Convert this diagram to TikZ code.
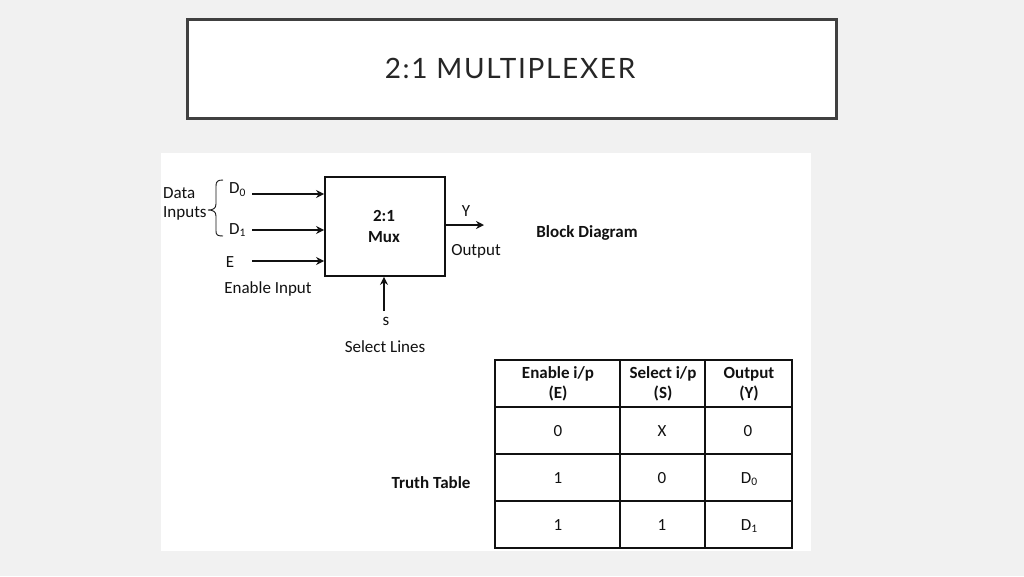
\documentclass[tikz,border=0pt]{standalone}
\usepackage{fontspec}
\setmainfont{Carlito}
\newfontfamily\titlefont[LetterSpace=6]{Lato}
\usetikzlibrary{arrows.meta}
\definecolor{pagebg}{HTML}{F1F1F1}
\definecolor{titleborder}{HTML}{404040}
\definecolor{titletext}{HTML}{262626}
\definecolor{ink}{HTML}{111111}
\tikzset{
  lbl/.style={inner sep=0pt, font=\fontsize{17}{19}\selectfont, text=ink},
  blbl/.style={lbl, font=\fontsize{17}{20}\selectfont\bfseries},
  sig/.style={line width=1.7pt, draw=ink, -{Stealth[length=8pt,width=8pt]}},
  muxbox/.style={draw=ink, line width=1.8pt, minimum width=120pt, minimum height=99pt, inner sep=0pt, align=center},
  cell/.style={lbl, align=center},
  hcell/.style={lbl, align=center, font=\fontsize{17}{20}\selectfont\bfseries},
  grid/.style={draw=ink, line width=1.2pt}
}
\newcommand{\Dsub}[1]{D\raisebox{-0.35ex}{\fontsize{11.5}{12}\selectfont #1}}
\begin{document}
\begin{tikzpicture}[x=1pt,y=-1pt]
\useasboundingbox (0,0) rectangle (1024,576);
\fill[pagebg] (0,0) rectangle (1024,576);
% title
\node[draw=titleborder, line width=2.2pt, fill=white, minimum width=649pt, minimum height=99pt, inner sep=0pt] (titlebox) at (512,69) {};
\node[text=titletext, inner sep=0pt, font=\titlefont\fontsize{28}{32}\selectfont] (title) at (510,68) {2:1 MULTIPLEXER};
% image panel
\fill[white] (161,153) rectangle (811,551);
% block diagram
\node[muxbox] (mux) at (385,226.5) {};
\node[blbl, align=center, font=\fontsize{17}{21}\selectfont\bfseries] (muxlbl) at (384,226.5) {2:1\\Mux};
\node[lbl, anchor=west] (data) at (163,193) {Data};
\node[lbl, anchor=west] (inputs) at (163,213) {Inputs};
\node[lbl, anchor=west] (d0) at (229,190) {\Dsub{0}};
\node[lbl, anchor=west] (d1) at (229,230) {\Dsub{1}};
\node[lbl] (e) at (230,262) {E};
\node[lbl] (enable) at (268,289) {Enable Input};
\coordinate (d0s) at (252,194);
\coordinate (d1s) at (252,230);
\coordinate (es) at (252,261);
\draw[sig] (d0s) -- (mux.west |- d0s);
\draw[sig] (d1s) -- (mux.west |- d1s);
\draw[sig] (es) -- (mux.west |- es);
\draw[draw=ink, line width=0.9pt] (223,180) .. controls (217.5,180) and (216,181.5) .. (216,186) -- (216,204) .. controls (216,208.5) and (213,210) .. (208,210) .. controls (213,210) and (216,211.5) .. (216,216) -- (216,231) .. controls (216,235) and (217.5,236) .. (223,236);
\coordinate (yend) at (484,225);
\draw[sig] (mux.east |- yend) -- (yend);
\node[lbl] (y) at (466,211) {Y};
\node[lbl] (output) at (476,251) {Output};
\coordinate (sstart) at (384,311);
\draw[sig] (sstart) -- (mux.south -| sstart);
\node[lbl] (s) at (386,321) {s};
\node[lbl] (select) at (385,347) {Select Lines};
\node[blbl] (blockd) at (587,233) {Block Diagram};
\node[blbl] (truth) at (431,483) {Truth Table};
% truth table
\draw[grid] (495,360) rectangle (792,548);
\foreach \yy in {407,454,501} \draw[grid] (495,\yy) -- (792,\yy);
\foreach \xx in {620,705} \draw[grid] (\xx,360) -- (\xx,548);
\node[hcell] (h1) at (558,384) {Enable i/p\\(E)};
\node[hcell] (h2) at (663,384) {Select i/p\\(S)};
\node[hcell] (h3) at (749,384) {Output\\(Y)};
\node[cell] (r1a) at (558,431) {0};
\node[cell] (r1b) at (662,431) {X};
\node[cell] (r1c) at (748,431) {0};
\node[cell] (r2a) at (558,478) {1};
\node[cell] (r2b) at (662,478) {0};
\node[cell] (r2c) at (749,479) {\Dsub{0}};
\node[cell] (r3a) at (558,525) {1};
\node[cell] (r3b) at (662,525) {1};
\node[cell] (r3c) at (749,526) {\Dsub{1}};
\end{tikzpicture}
\end{document}
